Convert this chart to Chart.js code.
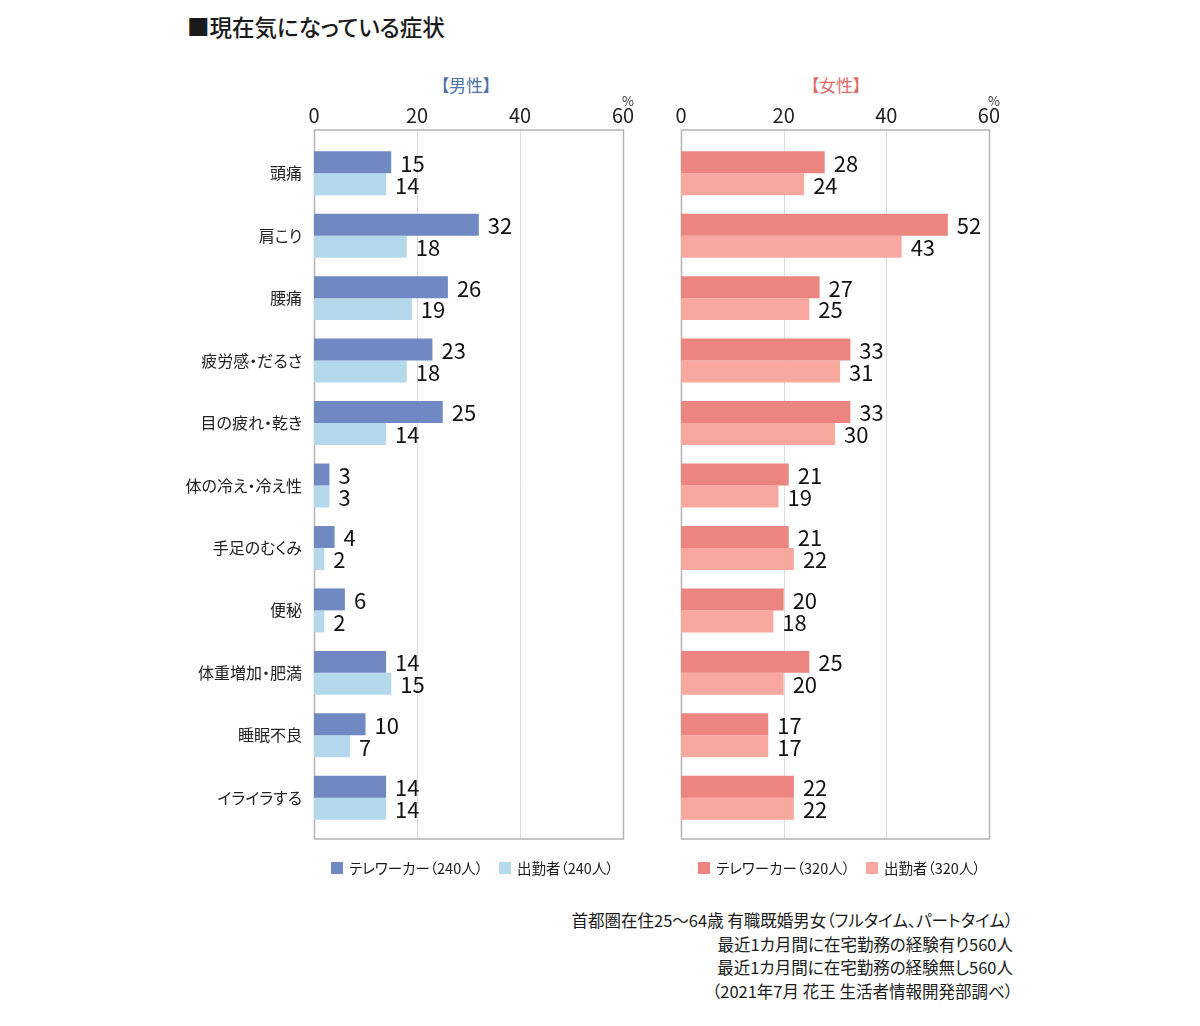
<!DOCTYPE html>
<html lang="ja">
<head>
<meta charset="utf-8">
<script src="https://cdn.jsdelivr.net/npm/chart.js@4.4.1/dist/chart.umd.min.js"></script>
<style>
  html, body { margin: 0; padding: 0; background: #fff; }
  body { width: 1200px; height: 1026px; position: relative; overflow: hidden;
         font-family: "Noto Sans CJK JP", "Noto Sans", sans-serif; color: #1a1a1a;
         font-feature-settings: "palt"; }
  .abs { position: absolute; white-space: nowrap; line-height: 1; }
  #title { left: 187px; top: 15px; font-size: 22.5px; font-weight: 500; }
  .panelTitle { font-size: 17px; transform: translateX(-50%); top: 76px; }
  #mTitle { left: 466px; color: #4e72a8; }
  #fTitle { left: 836px; color: #df6a66; }
  .legend { top: 861px; font-size: 14.5px; display: flex; align-items: center; }
  .legend span.sq { display: inline-block; width: 12px; height: 12px; margin-right: 6px; }
  #note { right: 187px; top: 909px; text-align: right; font-size: 16.5px; line-height: 23.7px; }
  canvas { position: absolute; }
</style>
</head>
<body>
<div id="title" class="abs">■現在気になっている症状</div>
<div id="mTitle" class="abs panelTitle">【男性】</div>
<div id="fTitle" class="abs panelTitle">【女性】</div>
<canvas id="male" width="650" height="860" style="left:0;top:0;width:650px;height:860px"></canvas>
<canvas id="female" width="360" height="860" style="left:655px;top:0;width:360px;height:860px"></canvas>
<div id="legends"></div>
<div id="note" class="abs">首都圏在住25～64歳 有職既婚男女（フルタイム、パートタイム）<br>最近1カ月間に在宅勤務の経験有り560人<br>最近1カ月間に在宅勤務の経験無し560人<br>（2021年7月 花王 生活者情報開発部調べ）</div>
<script>
const categories = ['頭痛','肩こり','腰痛','疲労感・だるさ','目の疲れ・乾き','体の冷え・冷え性','手足のむくみ','便秘','体重増加・肥満','睡眠不良','イライラする'];
const maleTele   = [15, 32, 26, 23, 25, 3, 4, 6, 14, 10, 14];
const maleComm   = [14, 18, 19, 18, 14, 3, 2, 2, 15, 7, 14];
const femaleTele = [28, 52, 27, 33, 33, 21, 21, 20, 25, 17, 22];
const femaleComm = [24, 43, 25, 31, 30, 19, 22, 18, 20, 17, 22];
const xTicks = [0, 20, 40, 60];
const maleLabels = ['テレワーカー（240人）', '出勤者（240人）'];
const femaleLabels = ['テレワーカー（320人）', '出勤者（320人）'];

const COL = { mTele: '#7189c2', mComm: '#b4d9ec', fTele: '#ec8580', fComm: '#f9a8a0' };
const FONT = '"Noto Sans CJK JP", "Noto Sans", sans-serif';

const boxPlugin = {
  id: 'box',
  beforeDatasetsDraw(chart) {
    const { ctx, chartArea: a, scales: { x } } = chart;
    const top = a.top - 12, bottom = a.bottom + 10;
    ctx.save();
    ctx.strokeStyle = '#dcdcdc';
    ctx.lineWidth = 1;
    xTicks.slice(1, -1).forEach(v => {
      const px = Math.round(x.getPixelForValue(v)) + 0.5;
      ctx.beginPath(); ctx.moveTo(px, top); ctx.lineTo(px, bottom); ctx.stroke();
    });
    ctx.strokeStyle = '#b4b4b4';
    ctx.lineWidth = 1.5;
    ctx.strokeRect(Math.round(a.left) + 0.5, top, Math.round(a.right - a.left), bottom - top);
    ctx.fillStyle = '#333';
    ctx.font = '13px ' + FONT;
    ctx.textAlign = 'center';
    ctx.textBaseline = 'middle';
    ctx.fillText('%', a.right + 5, 101);
    ctx.restore();
  },
  afterDatasetsDraw(chart) {
    const { ctx } = chart;
    ctx.save();
    ctx.fillStyle = '#111';
    ctx.font = '22px ' + FONT;
    ctx.textAlign = 'left';
    ctx.textBaseline = 'middle';
    chart.data.datasets.forEach((ds, i) => {
      chart.getDatasetMeta(i).data.forEach((bar, j) => {
        ctx.fillText(String(ds.data[j]), bar.x + 9, bar.y + 1);
      });
    });
    ctx.restore();
  }
};

function makeChart(id, tele, comm, labels, cTele, cComm, showY, yWidth, pad) {
  return new Chart(document.getElementById(id), {
    type: 'bar',
    data: {
      labels: categories,
      datasets: [
        { label: labels[0], data: tele, backgroundColor: cTele, categoryPercentage: 0.704, barPercentage: 1 },
        { label: labels[1], data: comm, backgroundColor: cComm, categoryPercentage: 0.704, barPercentage: 1 }
      ]
    },
    options: {
      indexAxis: 'y',
      responsive: false,
      animation: false,
      layout: { padding: pad },
      plugins: { legend: { display: false }, tooltip: { enabled: false }, title: { display: false } },
      scales: {
        x: {
          position: 'top', min: 0, max: 60,
          afterBuildTicks: s => { s.ticks = xTicks.map(v => ({ value: v })); },
          afterFit: s => { s.height = 142 - pad.top; },
          grid: { display: false, drawTicks: false },
          border: { display: false },
          ticks: { padding: 15, color: '#222', font: { family: FONT, size: 20 } }
        },
        y: {
          display: true,
          afterFit: s => { s.width = yWidth; },
          grid: { display: false, drawTicks: false },
          border: { display: false },
          ticks: { display: showY, padding: 12, color: '#222', font: { family: FONT, size: 16 } }
        }
      }
    },
    plugins: [boxPlugin]
  });
}

makeChart('male', maleTele, maleComm, maleLabels, COL.mTele, COL.mComm, true, 314, { top: 0, right: 27, bottom: 31, left: 0 });
makeChart('female', femaleTele, femaleComm, femaleLabels, COL.fTele, COL.fComm, false, 0, { top: 0, right: 25, bottom: 31, left: 26 });

// HTML legends built from series labels/colours
const legendItems = [
  { x: 331, label: maleLabels[0], color: COL.mTele },
  { x: 499, label: maleLabels[1], color: COL.mComm },
  { x: 698, label: femaleLabels[0], color: COL.fTele },
  { x: 866, label: femaleLabels[1], color: COL.fComm }
];
const lg = document.getElementById('legends');
legendItems.forEach(it => {
  const d = document.createElement('div');
  d.className = 'abs legend';
  d.style.left = it.x + 'px';
  d.innerHTML = '<span class="sq" style="background:' + it.color + '"></span><span>' + it.label + '</span>';
  lg.appendChild(d);
});
</script>
</body>
</html>
